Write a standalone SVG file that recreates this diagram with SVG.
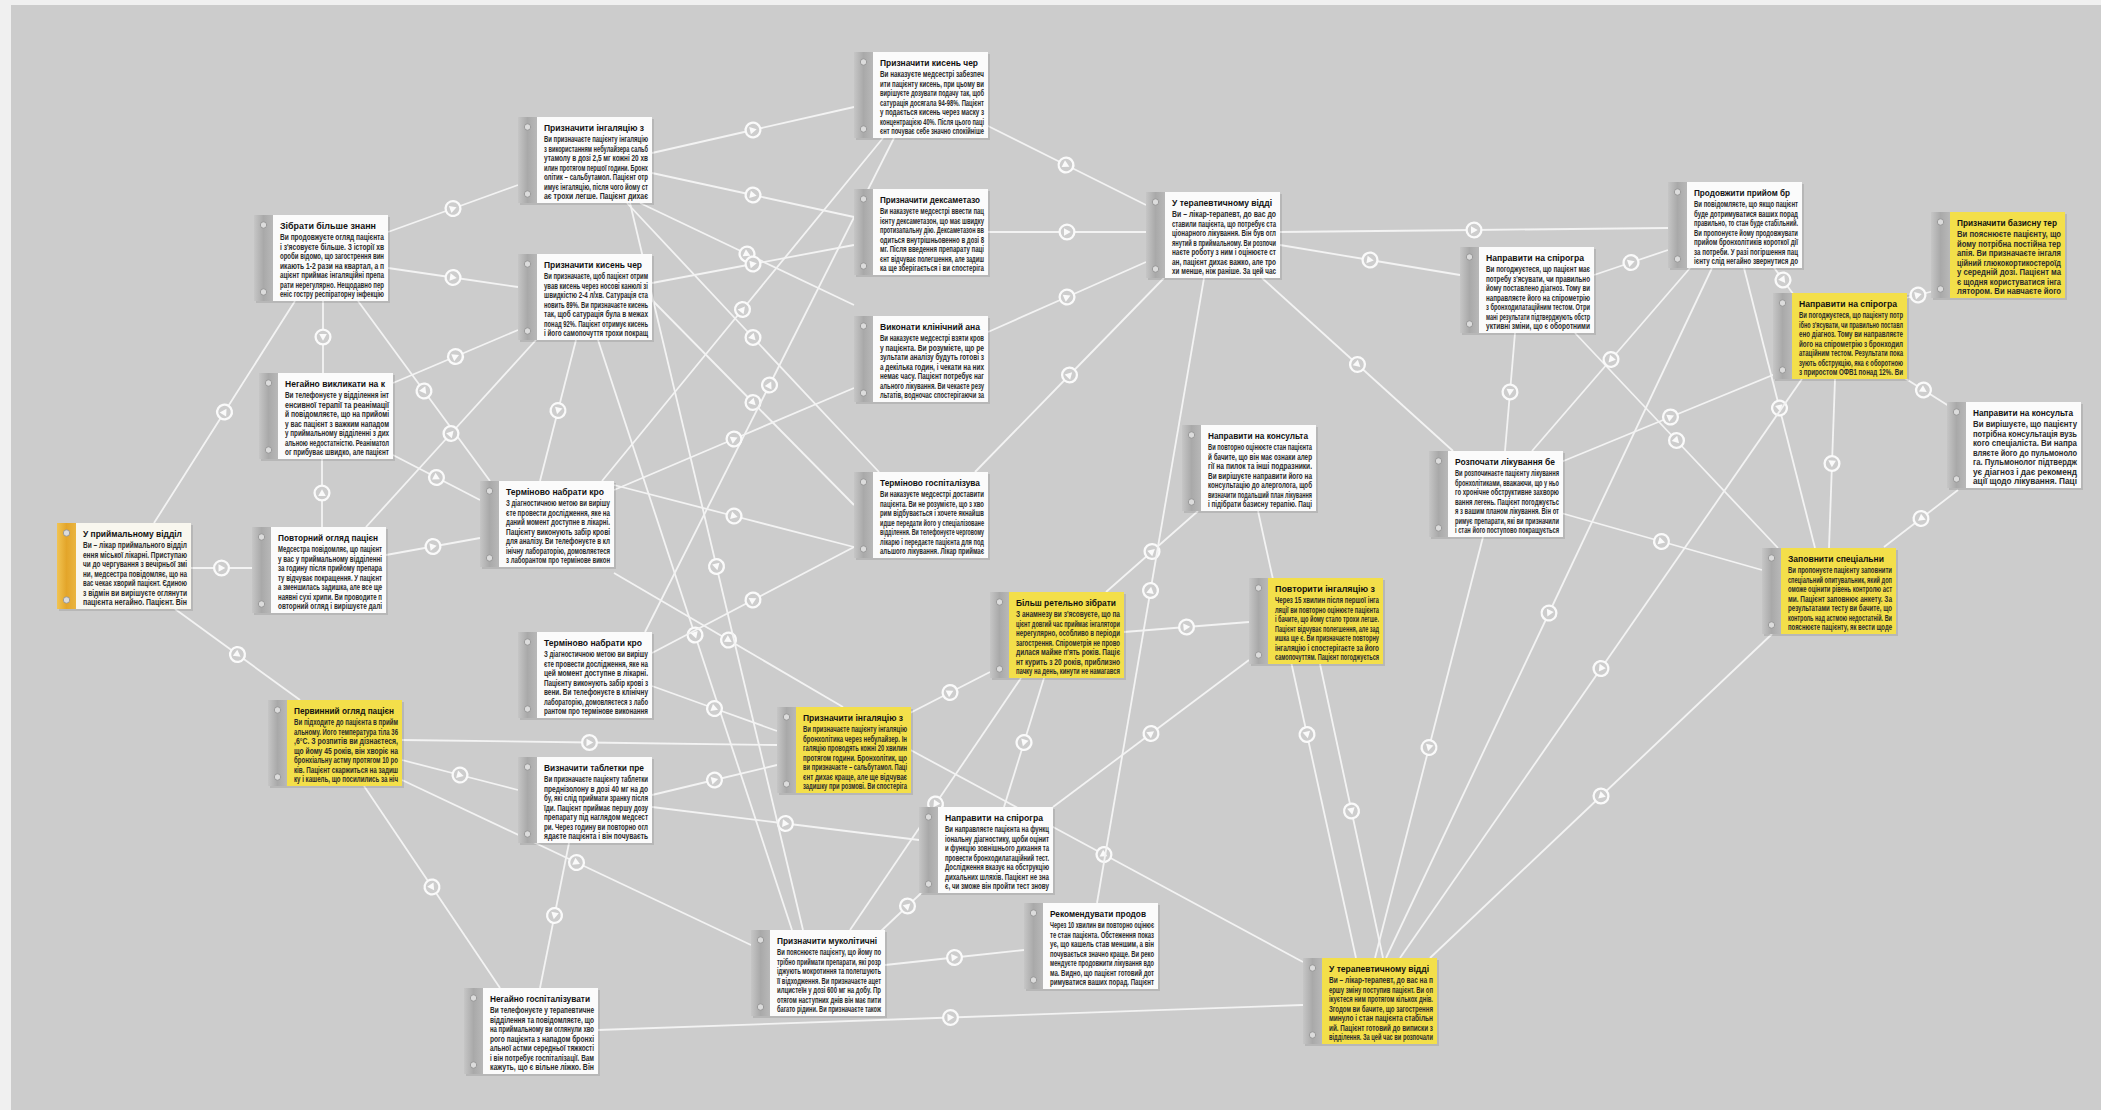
<svg xmlns="http://www.w3.org/2000/svg" width="2101" height="1110" viewBox="0 0 2101 1110">
<defs>
<style>
.c{fill:none;stroke:#f3f3f3;stroke-width:1.8;marker-mid:url(#m)}
.sh{fill:#000;opacity:.1}
.bar{fill:url(#gbar)}
.bar.o{fill:url(#gor)}
.body{fill:#fbfbfb}
.body.y{fill:#f3df4a}
.body.w2{fill:#f9f7ef}
.k{fill:#dcdcdc;stroke:#8e8e8e;stroke-width:.8}
.t{font-family:"Liberation Sans",Arial,sans-serif;font-size:9.5px;font-weight:bold;fill:#111}
.b{font-family:"Liberation Sans",Arial,sans-serif;font-size:8.2px;font-weight:bold;fill:#2a2a2a}
</style>
<linearGradient id="gbar" x1="0" x2="1" y1="0" y2="0"><stop offset="0" stop-color="#c6c6c6"/><stop offset=".5" stop-color="#a9a9a9"/><stop offset="1" stop-color="#b8b8b8"/></linearGradient>
<linearGradient id="gor" x1="0" x2="1" y1="0" y2="0"><stop offset="0" stop-color="#f1c453"/><stop offset=".5" stop-color="#e3a52a"/><stop offset="1" stop-color="#eab540"/></linearGradient>
<marker id="m" viewBox="-10 -10 20 20" markerWidth="20" markerHeight="20" markerUnits="userSpaceOnUse" orient="auto" refX="0" refY="0">
<circle r="7.4" fill="#cdcdcd" stroke="#fafafa" stroke-width="2.3"/>
<path d="M-3,-3.8 L3.8,0 L-3,3.8Z" fill="#fafafa"/>
</marker>
</defs>
<rect width="2101" height="1110" fill="#f0f0f0"/>
<rect x="11" y="5" width="2090" height="1105" fill="#cccccc"/>

<g id="connectors">
<path class="c" d="M154,523 L224.5,412 L295,301"/>
<path class="c" d="M191,568 L221.5,568 L252,568"/>
<path class="c" d="M175,609 L237.5,654.5 L300,700"/>
<path class="c" d="M323,301 L323,337 L323,373"/>
<path class="c" d="M388,232 L453,208.5 L518,185"/>
<path class="c" d="M388,268 L453,277.5 L518,287"/>
<path class="c" d="M358,301 L424,391 L490,481"/>
<path class="c" d="M393,383 L455.5,356.5 L518,330"/>
<path class="c" d="M393,455 L436.5,477.5 L480,500"/>
<path class="c" d="M322,527 L322,493 L322,459"/>
<path class="c" d="M386,555 L433,546.5 L480,538"/>
<path class="c" d="M366,527 L451,433.5 L536,340"/>
<path class="c" d="M576,340 L558,410.5 L540,481"/>
<path class="c" d="M598,340 L695,635 L792,930"/>
<path class="c" d="M652,153 L753,130 L854,107"/>
<path class="c" d="M652,173 L753,195 L854,217"/>
<path class="c" d="M640,203 L747,254 L854,305"/>
<path class="c" d="M652,283 L753,264 L854,245"/>
<path class="c" d="M627,203 L753,337.5 L879,472"/>
<path class="c" d="M652,300 L753,402.5 L854,505"/>
<path class="c" d="M602,481 L742.5,309.5 L883,138"/>
<path class="c" d="M645,632 L769.5,385 L894,138"/>
<path class="c" d="M614,490 L734,439 L854,388"/>
<path class="c" d="M614,485 L734,516 L854,547"/>
<path class="c" d="M652,653 L753,600 L854,547"/>
<path class="c" d="M614,573 L728.5,640 L843,707"/>
<path class="c" d="M402,740 L589.5,742.5 L777,745"/>
<path class="c" d="M402,760 L460,775 L518,790"/>
<path class="c" d="M364,786 L432,887 L500,988"/>
<path class="c" d="M402,780 L576.5,862.5 L751,945"/>
<path class="c" d="M569,843 L554.5,915.5 L540,988"/>
<path class="c" d="M598,1030 L950.5,1017.5 L1303,1005"/>
<path class="c" d="M652,807 L785.5,823.5 L919,840"/>
<path class="c" d="M652,795 L714.5,780 L777,765"/>
<path class="c" d="M652,686 L714.5,708.5 L777,731"/>
<path class="c" d="M630,203 L716.5,566.5 L803,930"/>
<path class="c" d="M910,713 L950,692.5 L990,672"/>
<path class="c" d="M1021,678 L935.5,804 L850,930"/>
<path class="c" d="M1044,678 L1024,742.5 L1004,807"/>
<path class="c" d="M1124,632 L1186.5,627 L1249,622"/>
<path class="c" d="M1106,592 L1152,551.5 L1198,511"/>
<path class="c" d="M1053,807 L1151,733.5 L1249,660"/>
<path class="c" d="M905,747 L1104,854.5 L1303,962"/>
<path class="c" d="M880,932 L907.5,906 L935,880"/>
<path class="c" d="M885,965 L954.5,957.5 L1024,950"/>
<path class="c" d="M1097,903 L1150.5,590.5 L1204,278"/>
<path class="c" d="M975,472 L1069.5,375 L1164,278"/>
<path class="c" d="M986,125 L1066,165 L1146,205"/>
<path class="c" d="M988,232 L1067,232 L1146,232"/>
<path class="c" d="M988,332 L1067,297 L1146,262"/>
<path class="c" d="M1280,245 L1370,260 L1460,275"/>
<path class="c" d="M1280,232 L1474,230 L1668,228"/>
<path class="c" d="M1262,278 L1357.5,364.5 L1453,451"/>
<path class="c" d="M1594,275 L1631,262.5 L1668,250"/>
<path class="c" d="M1515,333 L1510,392 L1505,451"/>
<path class="c" d="M1575,333 L1676.5,440.5 L1778,548"/>
<path class="c" d="M1690,268 L1611,359.5 L1532,451"/>
<path class="c" d="M1712,268 L1549,613 L1386,958"/>
<path class="c" d="M1770,262 L1783,280 L1796,298"/>
<path class="c" d="M1744,268 L1779.5,408 L1815,548"/>
<path class="c" d="M1898,300 L1918,295 L1938,290"/>
<path class="c" d="M1895,372 L1923.5,390 L1952,408"/>
<path class="c" d="M1958,490 L1921,518.5 L1884,547"/>
<path class="c" d="M1835,379 L1832,463.5 L1829,548"/>
<path class="c" d="M1802,379 L1601,668.5 L1400,958"/>
<path class="c" d="M1772,634 L1601,796 L1430,958"/>
<path class="c" d="M1561,462 L1670.5,417 L1780,372"/>
<path class="c" d="M1561,513 L1661.5,541.5 L1762,570"/>
<path class="c" d="M1483,537 L1429,747.5 L1375,958"/>
<path class="c" d="M1258,511 L1307,734.5 L1356,958"/>
<path class="c" d="M1320,664 L1351.5,811 L1383,958"/>
</g>

<g id="node-A" transform="translate(57,523)"><rect class="sh" x="2" y="2" width="134" height="86"/><rect class="bar o" width="19" height="86"/><rect class="body w2" x="19" width="115" height="86"/><circle class="k" cx="9.5" cy="10" r="3.2"/><circle class="k" cx="9.5" cy="77" r="3.2"/>
<text class="t" x="26" y="14" textLength="99" lengthAdjust="spacingAndGlyphs">У приймальному відділ</text>
<text class="b" x="26" y="25" textLength="104" lengthAdjust="spacingAndGlyphs">Ви – лікар приймального відділ</text>
<text class="b" x="26" y="34.5" textLength="104" lengthAdjust="spacingAndGlyphs">ення міської лікарні. Приступаю</text>
<text class="b" x="26" y="44" textLength="104" lengthAdjust="spacingAndGlyphs">чи до чергування з вечірньої змі</text>
<text class="b" x="26" y="53.5" textLength="104" lengthAdjust="spacingAndGlyphs">ни, медсестра повідомляє, що на</text>
<text class="b" x="26" y="63" textLength="104" lengthAdjust="spacingAndGlyphs">вас чекає хворий пацієнт. Єдиною</text>
<text class="b" x="26" y="72.5" textLength="104" lengthAdjust="spacingAndGlyphs">з відмін ви вирішуєте оглянути</text>
<text class="b" x="26" y="82" textLength="104" lengthAdjust="spacingAndGlyphs">пацієнта негайно. Пацієнт. Він</text></g>

<g id="node-B" transform="translate(254,215)"><rect class="sh" x="2" y="2" width="134" height="86"/><rect class="bar" width="19" height="86"/><rect class="body" x="19" width="115" height="86"/><circle class="k" cx="9.5" cy="10" r="3.2"/><circle class="k" cx="9.5" cy="77" r="3.2"/>
<text class="t" x="26" y="14" textLength="96" lengthAdjust="spacingAndGlyphs">Зібрати більше знанн</text>
<text class="b" x="26" y="25" textLength="104" lengthAdjust="spacingAndGlyphs">Ви продовжуєте огляд пацієнта</text>
<text class="b" x="26" y="34.5" textLength="104" lengthAdjust="spacingAndGlyphs">і з'ясовуєте більше. З історії хв</text>
<text class="b" x="26" y="44" textLength="104" lengthAdjust="spacingAndGlyphs">ороби відомо, що загострення вин</text>
<text class="b" x="26" y="53.5" textLength="104" lengthAdjust="spacingAndGlyphs">икають 1-2 рази на квартал, а п</text>
<text class="b" x="26" y="63" textLength="104" lengthAdjust="spacingAndGlyphs">ацієнт приймає інгаляційні препа</text>
<text class="b" x="26" y="72.5" textLength="104" lengthAdjust="spacingAndGlyphs">рати нерегулярно. Нещодавно пер</text>
<text class="b" x="26" y="82" textLength="104" lengthAdjust="spacingAndGlyphs">еніс гостру респіраторну інфекцію</text></g>

<g id="node-C" transform="translate(259,373)"><rect class="sh" x="2" y="2" width="134" height="86"/><rect class="bar" width="19" height="86"/><rect class="body" x="19" width="115" height="86"/><circle class="k" cx="9.5" cy="10" r="3.2"/><circle class="k" cx="9.5" cy="77" r="3.2"/>
<text class="t" x="26" y="14" textLength="100" lengthAdjust="spacingAndGlyphs">Негайно викликати на к</text>
<text class="b" x="26" y="25" textLength="104" lengthAdjust="spacingAndGlyphs">Ви телефонуєте у відділення інт</text>
<text class="b" x="26" y="34.5" textLength="104" lengthAdjust="spacingAndGlyphs">енсивної терапії та реанімації</text>
<text class="b" x="26" y="44" textLength="104" lengthAdjust="spacingAndGlyphs">й повідомляєте, що на прийомі</text>
<text class="b" x="26" y="53.5" textLength="104" lengthAdjust="spacingAndGlyphs">у вас пацієнт з важким нападом</text>
<text class="b" x="26" y="63" textLength="104" lengthAdjust="spacingAndGlyphs">у приймальному відділенні з дих</text>
<text class="b" x="26" y="72.5" textLength="104" lengthAdjust="spacingAndGlyphs">альною недостатністю. Реаніматол</text>
<text class="b" x="26" y="82" textLength="104" lengthAdjust="spacingAndGlyphs">ог прибуває швидко, але пацієнт</text></g>

<g id="node-D" transform="translate(252,527)"><rect class="sh" x="2" y="2" width="134" height="86"/><rect class="bar" width="19" height="86"/><rect class="body" x="19" width="115" height="86"/><circle class="k" cx="9.5" cy="10" r="3.2"/><circle class="k" cx="9.5" cy="77" r="3.2"/>
<text class="t" x="26" y="14" textLength="100" lengthAdjust="spacingAndGlyphs">Повторний огляд пацієн</text>
<text class="b" x="26" y="25" textLength="104" lengthAdjust="spacingAndGlyphs">Медсестра повідомляє, що пацієнт</text>
<text class="b" x="26" y="34.5" textLength="104" lengthAdjust="spacingAndGlyphs">у вас у приймальному відділенні</text>
<text class="b" x="26" y="44" textLength="104" lengthAdjust="spacingAndGlyphs">за годину після прийому препара</text>
<text class="b" x="26" y="53.5" textLength="104" lengthAdjust="spacingAndGlyphs">ту відчуває покращення. У пацієнт</text>
<text class="b" x="26" y="63" textLength="104" lengthAdjust="spacingAndGlyphs">а зменшилась задишка, але все ще</text>
<text class="b" x="26" y="72.5" textLength="104" lengthAdjust="spacingAndGlyphs">наявні сухі хрипи. Ви проводите п</text>
<text class="b" x="26" y="82" textLength="104" lengthAdjust="spacingAndGlyphs">овторний огляд і вирішуєте далі</text></g>

<g id="node-E" transform="translate(268,700)"><rect class="sh" x="2" y="2" width="134" height="86"/><rect class="bar" width="19" height="86"/><rect class="body y" x="19" width="115" height="86"/><circle class="k" cx="9.5" cy="10" r="3.2"/><circle class="k" cx="9.5" cy="77" r="3.2"/>
<text class="t" x="26" y="14" textLength="100" lengthAdjust="spacingAndGlyphs">Первинний огляд пацієн</text>
<text class="b" x="26" y="25" textLength="104" lengthAdjust="spacingAndGlyphs">Ви підходите до пацієнта в прийм</text>
<text class="b" x="26" y="34.5" textLength="104" lengthAdjust="spacingAndGlyphs">альному. Його температура тіла 36</text>
<text class="b" x="26" y="44" textLength="104" lengthAdjust="spacingAndGlyphs">,6°С. З розпитів ви дізнаєтеся,</text>
<text class="b" x="26" y="53.5" textLength="104" lengthAdjust="spacingAndGlyphs">що йому 45 років, він хворіє на</text>
<text class="b" x="26" y="63" textLength="104" lengthAdjust="spacingAndGlyphs">бронхіальну астму протягом 10 ро</text>
<text class="b" x="26" y="72.5" textLength="104" lengthAdjust="spacingAndGlyphs">ків. Пацієнт скаржиться на задиш</text>
<text class="b" x="26" y="82" textLength="104" lengthAdjust="spacingAndGlyphs">ку і кашель, що посилились за ніч</text></g>

<g id="node-F" transform="translate(518,117)"><rect class="sh" x="2" y="2" width="134" height="86"/><rect class="bar" width="19" height="86"/><rect class="body" x="19" width="115" height="86"/><circle class="k" cx="9.5" cy="10" r="3.2"/><circle class="k" cx="9.5" cy="77" r="3.2"/>
<text class="t" x="26" y="14" textLength="100" lengthAdjust="spacingAndGlyphs">Призначити інгаляцію з</text>
<text class="b" x="26" y="25" textLength="104" lengthAdjust="spacingAndGlyphs">Ви призначаєте пацієнту інгаляцію</text>
<text class="b" x="26" y="34.5" textLength="104" lengthAdjust="spacingAndGlyphs">з використанням небулайзера сальб</text>
<text class="b" x="26" y="44" textLength="104" lengthAdjust="spacingAndGlyphs">утамолу в дозі 2,5 мг кожні 20 хв</text>
<text class="b" x="26" y="53.5" textLength="104" lengthAdjust="spacingAndGlyphs">илин протягом першої години. Бронх</text>
<text class="b" x="26" y="63" textLength="104" lengthAdjust="spacingAndGlyphs">олітик – сальбутамол. Пацієнт отр</text>
<text class="b" x="26" y="72.5" textLength="104" lengthAdjust="spacingAndGlyphs">имує інгаляцію, після чого йому ст</text>
<text class="b" x="26" y="82" textLength="104" lengthAdjust="spacingAndGlyphs">ає трохи легше. Пацієнт дихає</text></g>

<g id="node-G" transform="translate(518,254)"><rect class="sh" x="2" y="2" width="134" height="86"/><rect class="bar" width="19" height="86"/><rect class="body" x="19" width="115" height="86"/><circle class="k" cx="9.5" cy="10" r="3.2"/><circle class="k" cx="9.5" cy="77" r="3.2"/>
<text class="t" x="26" y="14" textLength="98" lengthAdjust="spacingAndGlyphs">Призначити кисень чер</text>
<text class="b" x="26" y="25" textLength="104" lengthAdjust="spacingAndGlyphs">Ви призначаєте, щоб пацієнт отрим</text>
<text class="b" x="26" y="34.5" textLength="104" lengthAdjust="spacingAndGlyphs">ував кисень через носові канюлі зі</text>
<text class="b" x="26" y="44" textLength="104" lengthAdjust="spacingAndGlyphs">швидкістю 2-4 л/хв. Сатурація ста</text>
<text class="b" x="26" y="53.5" textLength="104" lengthAdjust="spacingAndGlyphs">новить 89%. Ви призначаєте кисень</text>
<text class="b" x="26" y="63" textLength="104" lengthAdjust="spacingAndGlyphs">так, щоб сатурація була в межах</text>
<text class="b" x="26" y="72.5" textLength="104" lengthAdjust="spacingAndGlyphs">понад 92%. Пацієнт отримує кисень</text>
<text class="b" x="26" y="82" textLength="104" lengthAdjust="spacingAndGlyphs">і його самопочуття трохи покращ</text></g>

<g id="node-H" transform="translate(480,481)"><rect class="sh" x="2" y="2" width="134" height="86"/><rect class="bar" width="19" height="86"/><rect class="body" x="19" width="115" height="86"/><circle class="k" cx="9.5" cy="10" r="3.2"/><circle class="k" cx="9.5" cy="77" r="3.2"/>
<text class="t" x="26" y="14" textLength="98" lengthAdjust="spacingAndGlyphs">Терміново набрати кро</text>
<text class="b" x="26" y="25" textLength="104" lengthAdjust="spacingAndGlyphs">З діагностичною метою ви вирішу</text>
<text class="b" x="26" y="34.5" textLength="104" lengthAdjust="spacingAndGlyphs">єте провести дослідження, яке на</text>
<text class="b" x="26" y="44" textLength="104" lengthAdjust="spacingAndGlyphs">даний момент доступне в лікарні.</text>
<text class="b" x="26" y="53.5" textLength="104" lengthAdjust="spacingAndGlyphs">Пацієнту виконують забір крові</text>
<text class="b" x="26" y="63" textLength="104" lengthAdjust="spacingAndGlyphs">для аналізу. Ви телефонуєте в кл</text>
<text class="b" x="26" y="72.5" textLength="104" lengthAdjust="spacingAndGlyphs">інічну лабораторію, домовляєтеся</text>
<text class="b" x="26" y="82" textLength="104" lengthAdjust="spacingAndGlyphs">з лаборантом про термінове викон</text></g>

<g id="node-I" transform="translate(518,632)"><rect class="sh" x="2" y="2" width="134" height="86"/><rect class="bar" width="19" height="86"/><rect class="body" x="19" width="115" height="86"/><circle class="k" cx="9.5" cy="10" r="3.2"/><circle class="k" cx="9.5" cy="77" r="3.2"/>
<text class="t" x="26" y="14" textLength="98" lengthAdjust="spacingAndGlyphs">Терміново набрати кро</text>
<text class="b" x="26" y="25" textLength="104" lengthAdjust="spacingAndGlyphs">З діагностичною метою ви вирішу</text>
<text class="b" x="26" y="34.5" textLength="104" lengthAdjust="spacingAndGlyphs">єте провести дослідження, яке на</text>
<text class="b" x="26" y="44" textLength="104" lengthAdjust="spacingAndGlyphs">цей момент доступне в лікарні.</text>
<text class="b" x="26" y="53.5" textLength="104" lengthAdjust="spacingAndGlyphs">Пацієнту виконують забір крові з</text>
<text class="b" x="26" y="63" textLength="104" lengthAdjust="spacingAndGlyphs">вени. Ви телефонуєте в клінічну</text>
<text class="b" x="26" y="72.5" textLength="104" lengthAdjust="spacingAndGlyphs">лабораторію, домовляєтеся з лабо</text>
<text class="b" x="26" y="82" textLength="104" lengthAdjust="spacingAndGlyphs">рантом про термінове виконання</text></g>

<g id="node-J" transform="translate(518,757)"><rect class="sh" x="2" y="2" width="134" height="86"/><rect class="bar" width="19" height="86"/><rect class="body" x="19" width="115" height="86"/><circle class="k" cx="9.5" cy="10" r="3.2"/><circle class="k" cx="9.5" cy="77" r="3.2"/>
<text class="t" x="26" y="14" textLength="100" lengthAdjust="spacingAndGlyphs">Визначити таблетки пре</text>
<text class="b" x="26" y="25" textLength="104" lengthAdjust="spacingAndGlyphs">Ви призначаєте пацієнту таблетки</text>
<text class="b" x="26" y="34.5" textLength="104" lengthAdjust="spacingAndGlyphs">преднізолону в дозі 40 мг на до</text>
<text class="b" x="26" y="44" textLength="104" lengthAdjust="spacingAndGlyphs">бу, які слід приймати зранку після</text>
<text class="b" x="26" y="53.5" textLength="104" lengthAdjust="spacingAndGlyphs">їди. Пацієнт приймає першу дозу</text>
<text class="b" x="26" y="63" textLength="104" lengthAdjust="spacingAndGlyphs">препарату під наглядом медсест</text>
<text class="b" x="26" y="72.5" textLength="104" lengthAdjust="spacingAndGlyphs">ри. Через годину ви повторно огл</text>
<text class="b" x="26" y="82" textLength="104" lengthAdjust="spacingAndGlyphs">ядаєте пацієнта і він почуваєть</text></g>

<g id="node-K" transform="translate(464,988)"><rect class="sh" x="2" y="2" width="134" height="86"/><rect class="bar" width="19" height="86"/><rect class="body" x="19" width="115" height="86"/><circle class="k" cx="9.5" cy="10" r="3.2"/><circle class="k" cx="9.5" cy="77" r="3.2"/>
<text class="t" x="26" y="14" textLength="100" lengthAdjust="spacingAndGlyphs">Негайно госпіталізувати</text>
<text class="b" x="26" y="25" textLength="104" lengthAdjust="spacingAndGlyphs">Ви телефонуєте у терапевтичне</text>
<text class="b" x="26" y="34.5" textLength="104" lengthAdjust="spacingAndGlyphs">відділення та повідомляєте, що</text>
<text class="b" x="26" y="44" textLength="104" lengthAdjust="spacingAndGlyphs">на приймальному ви оглянули хво</text>
<text class="b" x="26" y="53.5" textLength="104" lengthAdjust="spacingAndGlyphs">рого пацієнта з нападом бронхі</text>
<text class="b" x="26" y="63" textLength="104" lengthAdjust="spacingAndGlyphs">альної астми середньої тяжкості</text>
<text class="b" x="26" y="72.5" textLength="104" lengthAdjust="spacingAndGlyphs">і він потребує госпіталізації. Вам</text>
<text class="b" x="26" y="82" textLength="104" lengthAdjust="spacingAndGlyphs">кажуть, що є вільне ліжко. Він</text></g>

<g id="node-L" transform="translate(854,52)"><rect class="sh" x="2" y="2" width="134" height="86"/><rect class="bar" width="19" height="86"/><rect class="body" x="19" width="115" height="86"/><circle class="k" cx="9.5" cy="10" r="3.2"/><circle class="k" cx="9.5" cy="77" r="3.2"/>
<text class="t" x="26" y="14" textLength="98" lengthAdjust="spacingAndGlyphs">Призначити кисень чер</text>
<text class="b" x="26" y="25" textLength="104" lengthAdjust="spacingAndGlyphs">Ви наказуєте медсестрі забезпеч</text>
<text class="b" x="26" y="34.5" textLength="104" lengthAdjust="spacingAndGlyphs">ити пацієнту кисень, при цьому ви</text>
<text class="b" x="26" y="44" textLength="104" lengthAdjust="spacingAndGlyphs">вирішуєте дозувати подачу так, щоб</text>
<text class="b" x="26" y="53.5" textLength="104" lengthAdjust="spacingAndGlyphs">сатурація досягала 94-98%. Пацієнт</text>
<text class="b" x="26" y="63" textLength="104" lengthAdjust="spacingAndGlyphs">у подається кисень через маску з</text>
<text class="b" x="26" y="72.5" textLength="104" lengthAdjust="spacingAndGlyphs">концентрацією 40%. Після цього паці</text>
<text class="b" x="26" y="82" textLength="104" lengthAdjust="spacingAndGlyphs">єнт почуває себе значно спокійніше</text></g>

<g id="node-M" transform="translate(854,189)"><rect class="sh" x="2" y="2" width="134" height="86"/><rect class="bar" width="19" height="86"/><rect class="body" x="19" width="115" height="86"/><circle class="k" cx="9.5" cy="10" r="3.2"/><circle class="k" cx="9.5" cy="77" r="3.2"/>
<text class="t" x="26" y="14" textLength="100" lengthAdjust="spacingAndGlyphs">Призначити дексаметазо</text>
<text class="b" x="26" y="25" textLength="104" lengthAdjust="spacingAndGlyphs">Ви наказуєте медсестрі ввести пац</text>
<text class="b" x="26" y="34.5" textLength="104" lengthAdjust="spacingAndGlyphs">ієнту дексаметазон, що має швидку</text>
<text class="b" x="26" y="44" textLength="104" lengthAdjust="spacingAndGlyphs">протизапальну дію. Дексаметазон вв</text>
<text class="b" x="26" y="53.5" textLength="104" lengthAdjust="spacingAndGlyphs">одиться внутрішньовенно в дозі 8</text>
<text class="b" x="26" y="63" textLength="104" lengthAdjust="spacingAndGlyphs">мг. Після введення препарату паці</text>
<text class="b" x="26" y="72.5" textLength="104" lengthAdjust="spacingAndGlyphs">єнт відчуває полегшення, але задиш</text>
<text class="b" x="26" y="82" textLength="104" lengthAdjust="spacingAndGlyphs">ка ще зберігається і ви спостеріга</text></g>

<g id="node-N" transform="translate(854,316)"><rect class="sh" x="2" y="2" width="134" height="86"/><rect class="bar" width="19" height="86"/><rect class="body" x="19" width="115" height="86"/><circle class="k" cx="9.5" cy="10" r="3.2"/><circle class="k" cx="9.5" cy="77" r="3.2"/>
<text class="t" x="26" y="14" textLength="100" lengthAdjust="spacingAndGlyphs">Виконати клінічний ана</text>
<text class="b" x="26" y="25" textLength="104" lengthAdjust="spacingAndGlyphs">Ви наказуєте медсестрі взяти кров</text>
<text class="b" x="26" y="34.5" textLength="104" lengthAdjust="spacingAndGlyphs">у пацієнта. Ви розумієте, що ре</text>
<text class="b" x="26" y="44" textLength="104" lengthAdjust="spacingAndGlyphs">зультати аналізу будуть готові з</text>
<text class="b" x="26" y="53.5" textLength="104" lengthAdjust="spacingAndGlyphs">а декілька годин, і чекати на них</text>
<text class="b" x="26" y="63" textLength="104" lengthAdjust="spacingAndGlyphs">немає часу. Пацієнт потребує наг</text>
<text class="b" x="26" y="72.5" textLength="104" lengthAdjust="spacingAndGlyphs">ального лікування. Ви чекаєте резу</text>
<text class="b" x="26" y="82" textLength="104" lengthAdjust="spacingAndGlyphs">льтатів, водночас спостерігаючи за</text></g>

<g id="node-O" transform="translate(854,472)"><rect class="sh" x="2" y="2" width="134" height="86"/><rect class="bar" width="19" height="86"/><rect class="body" x="19" width="115" height="86"/><circle class="k" cx="9.5" cy="10" r="3.2"/><circle class="k" cx="9.5" cy="77" r="3.2"/>
<text class="t" x="26" y="14" textLength="100" lengthAdjust="spacingAndGlyphs">Терміново госпіталізува</text>
<text class="b" x="26" y="25" textLength="104" lengthAdjust="spacingAndGlyphs">Ви наказуєте медсестрі доставити</text>
<text class="b" x="26" y="34.5" textLength="104" lengthAdjust="spacingAndGlyphs">пацієнта. Ви не розумієте, що з хво</text>
<text class="b" x="26" y="44" textLength="104" lengthAdjust="spacingAndGlyphs">рим відбувається і хочете якнайшв</text>
<text class="b" x="26" y="53.5" textLength="104" lengthAdjust="spacingAndGlyphs">идше передати його у спеціалізоване</text>
<text class="b" x="26" y="63" textLength="104" lengthAdjust="spacingAndGlyphs">відділення. Ви телефонуєте черговому</text>
<text class="b" x="26" y="72.5" textLength="104" lengthAdjust="spacingAndGlyphs">лікарю і передаєте пацієнта для под</text>
<text class="b" x="26" y="82" textLength="104" lengthAdjust="spacingAndGlyphs">альшого лікування. Лікар приймає</text></g>

<g id="node-P" transform="translate(777,707)"><rect class="sh" x="2" y="2" width="134" height="86"/><rect class="bar" width="19" height="86"/><rect class="body y" x="19" width="115" height="86"/><circle class="k" cx="9.5" cy="10" r="3.2"/><circle class="k" cx="9.5" cy="77" r="3.2"/>
<text class="t" x="26" y="14" textLength="100" lengthAdjust="spacingAndGlyphs">Призначити інгаляцію з</text>
<text class="b" x="26" y="25" textLength="104" lengthAdjust="spacingAndGlyphs">Ви призначаєте пацієнту інгаляцію</text>
<text class="b" x="26" y="34.5" textLength="104" lengthAdjust="spacingAndGlyphs">бронхолітика через небулайзер. Ін</text>
<text class="b" x="26" y="44" textLength="104" lengthAdjust="spacingAndGlyphs">галяцію проводять кожні 20 хвилин</text>
<text class="b" x="26" y="53.5" textLength="104" lengthAdjust="spacingAndGlyphs">протягом години. Бронхолітик, що</text>
<text class="b" x="26" y="63" textLength="104" lengthAdjust="spacingAndGlyphs">ви призначаєте – сальбутамол. Паці</text>
<text class="b" x="26" y="72.5" textLength="104" lengthAdjust="spacingAndGlyphs">єнт дихає краще, але ще відчуває</text>
<text class="b" x="26" y="82" textLength="104" lengthAdjust="spacingAndGlyphs">задишку при розмові. Ви спостеріга</text></g>

<g id="node-Q" transform="translate(990,592)"><rect class="sh" x="2" y="2" width="134" height="86"/><rect class="bar" width="19" height="86"/><rect class="body y" x="19" width="115" height="86"/><circle class="k" cx="9.5" cy="10" r="3.2"/><circle class="k" cx="9.5" cy="77" r="3.2"/>
<text class="t" x="26" y="14" textLength="100" lengthAdjust="spacingAndGlyphs">Більш ретельно зібрати</text>
<text class="b" x="26" y="25" textLength="104" lengthAdjust="spacingAndGlyphs">З анамнезу ви з'ясовуєте, що па</text>
<text class="b" x="26" y="34.5" textLength="104" lengthAdjust="spacingAndGlyphs">цієнт довгий час приймає інгалятори</text>
<text class="b" x="26" y="44" textLength="104" lengthAdjust="spacingAndGlyphs">нерегулярно, особливо в періоди</text>
<text class="b" x="26" y="53.5" textLength="104" lengthAdjust="spacingAndGlyphs">загострення. Спірометрія не прово</text>
<text class="b" x="26" y="63" textLength="104" lengthAdjust="spacingAndGlyphs">дилася майже п'ять років. Паціє</text>
<text class="b" x="26" y="72.5" textLength="104" lengthAdjust="spacingAndGlyphs">нт курить з 20 років, приблизно</text>
<text class="b" x="26" y="82" textLength="104" lengthAdjust="spacingAndGlyphs">пачку на день, кинути не намагався</text></g>

<g id="node-R" transform="translate(919,807)"><rect class="sh" x="2" y="2" width="134" height="86"/><rect class="bar" width="19" height="86"/><rect class="body" x="19" width="115" height="86"/><circle class="k" cx="9.5" cy="10" r="3.2"/><circle class="k" cx="9.5" cy="77" r="3.2"/>
<text class="t" x="26" y="14" textLength="98" lengthAdjust="spacingAndGlyphs">Направити на спірогра</text>
<text class="b" x="26" y="25" textLength="104" lengthAdjust="spacingAndGlyphs">Ви направляєте пацієнта на функц</text>
<text class="b" x="26" y="34.5" textLength="104" lengthAdjust="spacingAndGlyphs">іональну діагностику, щоби оцінит</text>
<text class="b" x="26" y="44" textLength="104" lengthAdjust="spacingAndGlyphs">и функцію зовнішнього дихання та</text>
<text class="b" x="26" y="53.5" textLength="104" lengthAdjust="spacingAndGlyphs">провести бронходилатаційний тест.</text>
<text class="b" x="26" y="63" textLength="104" lengthAdjust="spacingAndGlyphs">Дослідження вказує на обструкцію</text>
<text class="b" x="26" y="72.5" textLength="104" lengthAdjust="spacingAndGlyphs">дихальних шляхів. Пацієнт не зна</text>
<text class="b" x="26" y="82" textLength="104" lengthAdjust="spacingAndGlyphs">є, чи зможе він пройти тест знову</text></g>

<g id="node-S" transform="translate(751,930)"><rect class="sh" x="2" y="2" width="134" height="86"/><rect class="bar" width="19" height="86"/><rect class="body" x="19" width="115" height="86"/><circle class="k" cx="9.5" cy="10" r="3.2"/><circle class="k" cx="9.5" cy="77" r="3.2"/>
<text class="t" x="26" y="14" textLength="100" lengthAdjust="spacingAndGlyphs">Призначити муколітичні</text>
<text class="b" x="26" y="25" textLength="104" lengthAdjust="spacingAndGlyphs">Ви пояснюєте пацієнту, що йому по</text>
<text class="b" x="26" y="34.5" textLength="104" lengthAdjust="spacingAndGlyphs">трібно приймати препарати, які розр</text>
<text class="b" x="26" y="44" textLength="104" lengthAdjust="spacingAndGlyphs">іджують мокротиння та полегшують</text>
<text class="b" x="26" y="53.5" textLength="104" lengthAdjust="spacingAndGlyphs">її відходження. Ви призначаєте ацет</text>
<text class="b" x="26" y="63" textLength="104" lengthAdjust="spacingAndGlyphs">илцистеїн у дозі 600 мг на добу. Пр</text>
<text class="b" x="26" y="72.5" textLength="104" lengthAdjust="spacingAndGlyphs">отягом наступних днів він має пити</text>
<text class="b" x="26" y="82" textLength="104" lengthAdjust="spacingAndGlyphs">багато рідини. Ви призначаєте також</text></g>

<g id="node-T" transform="translate(1024,903)"><rect class="sh" x="2" y="2" width="134" height="86"/><rect class="bar" width="19" height="86"/><rect class="body" x="19" width="115" height="86"/><circle class="k" cx="9.5" cy="10" r="3.2"/><circle class="k" cx="9.5" cy="77" r="3.2"/>
<text class="t" x="26" y="14" textLength="96" lengthAdjust="spacingAndGlyphs">Рекомендувати продов</text>
<text class="b" x="26" y="25" textLength="104" lengthAdjust="spacingAndGlyphs">Через 10 хвилин ви повторно оцінює</text>
<text class="b" x="26" y="34.5" textLength="104" lengthAdjust="spacingAndGlyphs">те стан пацієнта. Обстеження показ</text>
<text class="b" x="26" y="44" textLength="104" lengthAdjust="spacingAndGlyphs">ує, що кашель став меншим, а він</text>
<text class="b" x="26" y="53.5" textLength="104" lengthAdjust="spacingAndGlyphs">почувається значно краще. Ви реко</text>
<text class="b" x="26" y="63" textLength="104" lengthAdjust="spacingAndGlyphs">мендуєте продовжити лікування вдо</text>
<text class="b" x="26" y="72.5" textLength="104" lengthAdjust="spacingAndGlyphs">ма. Видно, що пацієнт готовий дот</text>
<text class="b" x="26" y="82" textLength="104" lengthAdjust="spacingAndGlyphs">римуватися ваших порад. Пацієнт</text></g>

<g id="node-U" transform="translate(1146,192)"><rect class="sh" x="2" y="2" width="134" height="86"/><rect class="bar" width="19" height="86"/><rect class="body" x="19" width="115" height="86"/><circle class="k" cx="9.5" cy="10" r="3.2"/><circle class="k" cx="9.5" cy="77" r="3.2"/>
<text class="t" x="26" y="14" textLength="100" lengthAdjust="spacingAndGlyphs">У терапевтичному відді</text>
<text class="b" x="26" y="25" textLength="104" lengthAdjust="spacingAndGlyphs">Ви – лікар-терапевт, до вас до</text>
<text class="b" x="26" y="34.5" textLength="104" lengthAdjust="spacingAndGlyphs">ставили пацієнта, що потребує ста</text>
<text class="b" x="26" y="44" textLength="104" lengthAdjust="spacingAndGlyphs">ціонарного лікування. Він був огл</text>
<text class="b" x="26" y="53.5" textLength="104" lengthAdjust="spacingAndGlyphs">янутий в приймальному. Ви розпочи</text>
<text class="b" x="26" y="63" textLength="104" lengthAdjust="spacingAndGlyphs">наєте роботу з ним і оцінюєте ст</text>
<text class="b" x="26" y="72.5" textLength="104" lengthAdjust="spacingAndGlyphs">ан, пацієнт дихає важко, але тро</text>
<text class="b" x="26" y="82" textLength="104" lengthAdjust="spacingAndGlyphs">хи менше, ніж раніше. За цей час</text></g>

<g id="node-V" transform="translate(1182,425)"><rect class="sh" x="2" y="2" width="134" height="86"/><rect class="bar" width="19" height="86"/><rect class="body" x="19" width="115" height="86"/><circle class="k" cx="9.5" cy="10" r="3.2"/><circle class="k" cx="9.5" cy="77" r="3.2"/>
<text class="t" x="26" y="14" textLength="100" lengthAdjust="spacingAndGlyphs">Направити на консульта</text>
<text class="b" x="26" y="25" textLength="104" lengthAdjust="spacingAndGlyphs">Ви повторно оцінюєте стан пацієнта</text>
<text class="b" x="26" y="34.5" textLength="104" lengthAdjust="spacingAndGlyphs">й бачите, що він має ознаки алер</text>
<text class="b" x="26" y="44" textLength="104" lengthAdjust="spacingAndGlyphs">гії на пилок та інші подразники.</text>
<text class="b" x="26" y="53.5" textLength="104" lengthAdjust="spacingAndGlyphs">Ви вирішуєте направити його на</text>
<text class="b" x="26" y="63" textLength="104" lengthAdjust="spacingAndGlyphs">консультацію до алерголога, щоб</text>
<text class="b" x="26" y="72.5" textLength="104" lengthAdjust="spacingAndGlyphs">визначити подальший план лікування</text>
<text class="b" x="26" y="82" textLength="104" lengthAdjust="spacingAndGlyphs">і підібрати базисну терапію. Паці</text></g>

<g id="node-W" transform="translate(1249,578)"><rect class="sh" x="2" y="2" width="134" height="86"/><rect class="bar" width="19" height="86"/><rect class="body y" x="19" width="115" height="86"/><circle class="k" cx="9.5" cy="10" r="3.2"/><circle class="k" cx="9.5" cy="77" r="3.2"/>
<text class="t" x="26" y="14" textLength="100" lengthAdjust="spacingAndGlyphs">Повторити інгаляцію з</text>
<text class="b" x="26" y="25" textLength="104" lengthAdjust="spacingAndGlyphs">Через 15 хвилин після першої інга</text>
<text class="b" x="26" y="34.5" textLength="104" lengthAdjust="spacingAndGlyphs">ляції ви повторно оцінюєте пацієнта</text>
<text class="b" x="26" y="44" textLength="104" lengthAdjust="spacingAndGlyphs">і бачите, що йому стало трохи легше.</text>
<text class="b" x="26" y="53.5" textLength="104" lengthAdjust="spacingAndGlyphs">Пацієнт відчуває полегшення, але зад</text>
<text class="b" x="26" y="63" textLength="104" lengthAdjust="spacingAndGlyphs">ишка ще є. Ви призначаєте повторну</text>
<text class="b" x="26" y="72.5" textLength="104" lengthAdjust="spacingAndGlyphs">інгаляцію і спостерігаєте за його</text>
<text class="b" x="26" y="82" textLength="104" lengthAdjust="spacingAndGlyphs">самопочуттям. Пацієнт погоджується</text></g>

<g id="node-X" transform="translate(1303,958)"><rect class="sh" x="2" y="2" width="134" height="86"/><rect class="bar" width="19" height="86"/><rect class="body y" x="19" width="115" height="86"/><circle class="k" cx="9.5" cy="10" r="3.2"/><circle class="k" cx="9.5" cy="77" r="3.2"/>
<text class="t" x="26" y="14" textLength="100" lengthAdjust="spacingAndGlyphs">У терапевтичному відді</text>
<text class="b" x="26" y="25" textLength="104" lengthAdjust="spacingAndGlyphs">Ви – лікар-терапевт, до вас на п</text>
<text class="b" x="26" y="34.5" textLength="104" lengthAdjust="spacingAndGlyphs">ершу зміну поступив пацієнт. Ви оп</text>
<text class="b" x="26" y="44" textLength="104" lengthAdjust="spacingAndGlyphs">ікуєтеся ним протягом кількох днів.</text>
<text class="b" x="26" y="53.5" textLength="104" lengthAdjust="spacingAndGlyphs">Згодом ви бачите, що загострення</text>
<text class="b" x="26" y="63" textLength="104" lengthAdjust="spacingAndGlyphs">минуло і стан пацієнта стабільн</text>
<text class="b" x="26" y="72.5" textLength="104" lengthAdjust="spacingAndGlyphs">ий. Пацієнт готовий до виписки з</text>
<text class="b" x="26" y="82" textLength="104" lengthAdjust="spacingAndGlyphs">відділення. За цей час ви розпочали</text></g>

<g id="node-Y" transform="translate(1460,247)"><rect class="sh" x="2" y="2" width="134" height="86"/><rect class="bar" width="19" height="86"/><rect class="body" x="19" width="115" height="86"/><circle class="k" cx="9.5" cy="10" r="3.2"/><circle class="k" cx="9.5" cy="77" r="3.2"/>
<text class="t" x="26" y="14" textLength="98" lengthAdjust="spacingAndGlyphs">Направити на спірогра</text>
<text class="b" x="26" y="25" textLength="104" lengthAdjust="spacingAndGlyphs">Ви погоджуєтеся, що пацієнт має</text>
<text class="b" x="26" y="34.5" textLength="104" lengthAdjust="spacingAndGlyphs">потребу з'ясувати, чи правильно</text>
<text class="b" x="26" y="44" textLength="104" lengthAdjust="spacingAndGlyphs">йому поставлено діагноз. Тому ви</text>
<text class="b" x="26" y="53.5" textLength="104" lengthAdjust="spacingAndGlyphs">направляєте його на спірометрію</text>
<text class="b" x="26" y="63" textLength="104" lengthAdjust="spacingAndGlyphs">з бронходилатаційним тестом. Отри</text>
<text class="b" x="26" y="72.5" textLength="104" lengthAdjust="spacingAndGlyphs">мані результати підтверджують обстр</text>
<text class="b" x="26" y="82" textLength="104" lengthAdjust="spacingAndGlyphs">уктивні зміни, що є оборотними</text></g>

<g id="node-Z" transform="translate(1668,182)"><rect class="sh" x="2" y="2" width="134" height="86"/><rect class="bar" width="19" height="86"/><rect class="body" x="19" width="115" height="86"/><circle class="k" cx="9.5" cy="10" r="3.2"/><circle class="k" cx="9.5" cy="77" r="3.2"/>
<text class="t" x="26" y="14" textLength="96" lengthAdjust="spacingAndGlyphs">Продовжити прийом бр</text>
<text class="b" x="26" y="25" textLength="104" lengthAdjust="spacingAndGlyphs">Ви повідомляєте, що якщо пацієнт</text>
<text class="b" x="26" y="34.5" textLength="104" lengthAdjust="spacingAndGlyphs">буде дотримуватися ваших порад</text>
<text class="b" x="26" y="44" textLength="104" lengthAdjust="spacingAndGlyphs">правильно, то стан буде стабільний.</text>
<text class="b" x="26" y="53.5" textLength="104" lengthAdjust="spacingAndGlyphs">Ви пропонуєте йому продовжувати</text>
<text class="b" x="26" y="63" textLength="104" lengthAdjust="spacingAndGlyphs">прийом бронхолітиків короткої дії</text>
<text class="b" x="26" y="72.5" textLength="104" lengthAdjust="spacingAndGlyphs">за потреби. У разі погіршення пац</text>
<text class="b" x="26" y="82" textLength="104" lengthAdjust="spacingAndGlyphs">ієнту слід негайно звернутися до</text></g>

<g id="node-AA" transform="translate(1931,212)"><rect class="sh" x="2" y="2" width="134" height="86"/><rect class="bar" width="19" height="86"/><rect class="body y" x="19" width="115" height="86"/><circle class="k" cx="9.5" cy="10" r="3.2"/><circle class="k" cx="9.5" cy="77" r="3.2"/>
<text class="t" x="26" y="14" textLength="100" lengthAdjust="spacingAndGlyphs">Призначити базисну тер</text>
<text class="b" x="26" y="25" textLength="104" lengthAdjust="spacingAndGlyphs">Ви пояснюєте пацієнту, що</text>
<text class="b" x="26" y="34.5" textLength="104" lengthAdjust="spacingAndGlyphs">йому потрібна постійна тер</text>
<text class="b" x="26" y="44" textLength="104" lengthAdjust="spacingAndGlyphs">апія. Ви призначаєте інгаля</text>
<text class="b" x="26" y="53.5" textLength="104" lengthAdjust="spacingAndGlyphs">ційний глюкокортикостероїд</text>
<text class="b" x="26" y="63" textLength="104" lengthAdjust="spacingAndGlyphs">у середній дозі. Пацієнт ма</text>
<text class="b" x="26" y="72.5" textLength="104" lengthAdjust="spacingAndGlyphs">є щодня користуватися інга</text>
<text class="b" x="26" y="82" textLength="104" lengthAdjust="spacingAndGlyphs">лятором. Ви навчаєте його</text></g>

<g id="node-AB" transform="translate(1773,293)"><rect class="sh" x="2" y="2" width="134" height="86"/><rect class="bar" width="19" height="86"/><rect class="body y" x="19" width="115" height="86"/><circle class="k" cx="9.5" cy="10" r="3.2"/><circle class="k" cx="9.5" cy="77" r="3.2"/>
<text class="t" x="26" y="14" textLength="98" lengthAdjust="spacingAndGlyphs">Направити на спірогра</text>
<text class="b" x="26" y="25" textLength="104" lengthAdjust="spacingAndGlyphs">Ви погоджуєтеся, що пацієнту потр</text>
<text class="b" x="26" y="34.5" textLength="104" lengthAdjust="spacingAndGlyphs">ібно з'ясувати, чи правильно поставл</text>
<text class="b" x="26" y="44" textLength="104" lengthAdjust="spacingAndGlyphs">ено діагноз. Тому ви направляєте</text>
<text class="b" x="26" y="53.5" textLength="104" lengthAdjust="spacingAndGlyphs">його на спірометрію з бронходил</text>
<text class="b" x="26" y="63" textLength="104" lengthAdjust="spacingAndGlyphs">атаційним тестом. Результати пока</text>
<text class="b" x="26" y="72.5" textLength="104" lengthAdjust="spacingAndGlyphs">зують обструкцію, яка є оборотною</text>
<text class="b" x="26" y="82" textLength="104" lengthAdjust="spacingAndGlyphs">з приростом ОФВ1 понад 12%. Ви</text></g>

<g id="node-AC" transform="translate(1429,451)"><rect class="sh" x="2" y="2" width="134" height="86"/><rect class="bar" width="19" height="86"/><rect class="body" x="19" width="115" height="86"/><circle class="k" cx="9.5" cy="10" r="3.2"/><circle class="k" cx="9.5" cy="77" r="3.2"/>
<text class="t" x="26" y="14" textLength="100" lengthAdjust="spacingAndGlyphs">Розпочати лікування бе</text>
<text class="b" x="26" y="25" textLength="104" lengthAdjust="spacingAndGlyphs">Ви розпочинаєте пацієнту лікування</text>
<text class="b" x="26" y="34.5" textLength="104" lengthAdjust="spacingAndGlyphs">бронхолітиками, вважаючи, що у ньо</text>
<text class="b" x="26" y="44" textLength="104" lengthAdjust="spacingAndGlyphs">го хронічне обструктивне захворю</text>
<text class="b" x="26" y="53.5" textLength="104" lengthAdjust="spacingAndGlyphs">вання легень. Пацієнт погоджуєтьс</text>
<text class="b" x="26" y="63" textLength="104" lengthAdjust="spacingAndGlyphs">я з вашим планом лікування. Він от</text>
<text class="b" x="26" y="72.5" textLength="104" lengthAdjust="spacingAndGlyphs">римує препарати, які ви призначили</text>
<text class="b" x="26" y="82" textLength="104" lengthAdjust="spacingAndGlyphs">і стан його поступово покращується</text></g>

<g id="node-AD" transform="translate(1947,402)"><rect class="sh" x="2" y="2" width="134" height="86"/><rect class="bar" width="19" height="86"/><rect class="body" x="19" width="115" height="86"/><circle class="k" cx="9.5" cy="10" r="3.2"/><circle class="k" cx="9.5" cy="77" r="3.2"/>
<text class="t" x="26" y="14" textLength="100" lengthAdjust="spacingAndGlyphs">Направити на консульта</text>
<text class="b" x="26" y="25" textLength="104" lengthAdjust="spacingAndGlyphs">Ви вирішуєте, що пацієнту</text>
<text class="b" x="26" y="34.5" textLength="104" lengthAdjust="spacingAndGlyphs">потрібна консультація вузь</text>
<text class="b" x="26" y="44" textLength="104" lengthAdjust="spacingAndGlyphs">кого спеціаліста. Ви напра</text>
<text class="b" x="26" y="53.5" textLength="104" lengthAdjust="spacingAndGlyphs">вляєте його до пульмоноло</text>
<text class="b" x="26" y="63" textLength="104" lengthAdjust="spacingAndGlyphs">га. Пульмонолог підтвердж</text>
<text class="b" x="26" y="72.5" textLength="104" lengthAdjust="spacingAndGlyphs">ує діагноз і дає рекоменд</text>
<text class="b" x="26" y="82" textLength="104" lengthAdjust="spacingAndGlyphs">ації щодо лікування. Паці</text></g>

<g id="node-AE" transform="translate(1762,548)"><rect class="sh" x="2" y="2" width="134" height="86"/><rect class="bar" width="19" height="86"/><rect class="body y" x="19" width="115" height="86"/><circle class="k" cx="9.5" cy="10" r="3.2"/><circle class="k" cx="9.5" cy="77" r="3.2"/>
<text class="t" x="26" y="14" textLength="96" lengthAdjust="spacingAndGlyphs">Заповнити спеціальни</text>
<text class="b" x="26" y="25" textLength="104" lengthAdjust="spacingAndGlyphs">Ви пропонуєте пацієнту заповнити</text>
<text class="b" x="26" y="34.5" textLength="104" lengthAdjust="spacingAndGlyphs">спеціальний опитувальник, який доп</text>
<text class="b" x="26" y="44" textLength="104" lengthAdjust="spacingAndGlyphs">оможе оцінити рівень контролю аст</text>
<text class="b" x="26" y="53.5" textLength="104" lengthAdjust="spacingAndGlyphs">ми. Пацієнт заповнює анкету. За</text>
<text class="b" x="26" y="63" textLength="104" lengthAdjust="spacingAndGlyphs">результатами тесту ви бачите, що</text>
<text class="b" x="26" y="72.5" textLength="104" lengthAdjust="spacingAndGlyphs">контроль над астмою недостатній. Ви</text>
<text class="b" x="26" y="82" textLength="104" lengthAdjust="spacingAndGlyphs">пояснюєте пацієнту, як вести щоде</text></g>
</svg>
